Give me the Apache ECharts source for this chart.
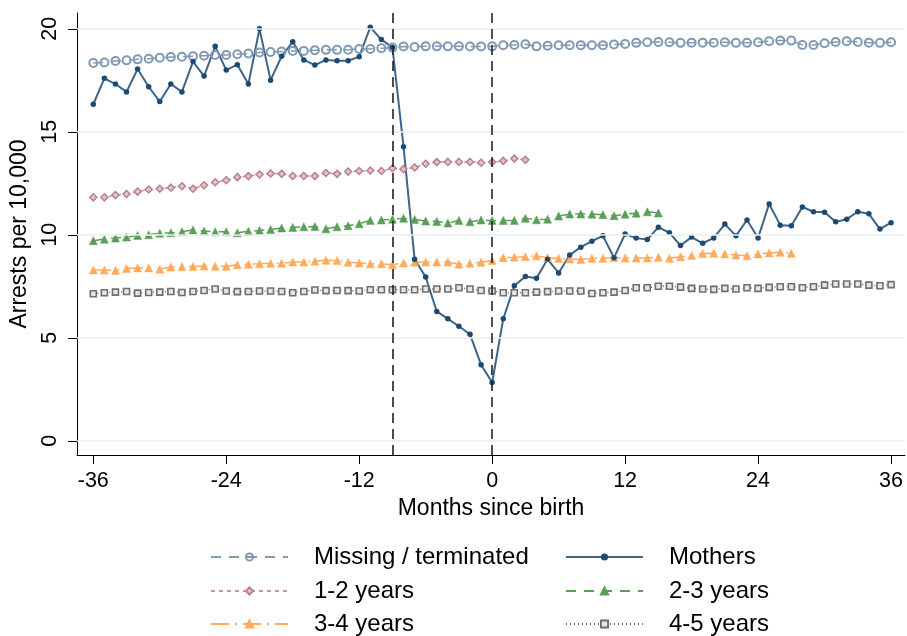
<!DOCTYPE html>
<html>
<head>
<meta charset="utf-8">
<script src="https://cdn.jsdelivr.net/npm/echarts@6/dist/echarts.min.js"></script>
<style>
  html, body { margin: 0; padding: 0; background: #fff; }
  #chart { width: 907px; height: 636px; }
</style>
</head>
<body>
<div id="chart"></div>
<script>
// Months relative to birth
const months = [-36,-35,-34,-33,-32,-31,-30,-29,-28,-27,-26,-25,-24,-23,-22,-21,-20,-19,-18,-17,-16,-15,-14,-13,-12,-11,-10,-9,
  -8,-7,-6,-5,-4,-3,-2,-1,0,1,2,3,4,5,6,7,8,9,10,11,12,13,14,15,16,17,18,19,20,21,22,23,24,25,26,27,28,29,30,31,32,33,34,35,36];

// Arrests per 10,000 by group
const missingTerminated = [18.34,18.37,18.44,18.47,18.52,18.55,18.6,18.63,18.65,18.67,18.7,18.73,18.73,18.77,18.8,18.85,18.88,18.9,18.93,18.93,18.96,18.98,18.98,18.99,19.02,19.02,19.06,19.09,
  19.14,19.12,19.15,19.15,19.15,19.15,19.14,19.14,19.15,19.2,19.22,19.25,19.15,19.18,19.2,19.2,19.21,19.2,19.21,19.24,
  19.27,19.32,19.35,19.36,19.35,19.32,19.33,19.33,19.33,19.35,19.32,19.32,19.35,19.4,19.43,19.43,19.22,19.22,19.3,19.36,19.4,19.36,19.33,19.32,19.35];

const mothers = [16.34,17.6,17.32,16.94,18.05,17.19,16.47,17.32,16.94,18.41,17.71,19.15,18.0,18.26,17.32,20.0,17.51,18.67,19.37,18.49,18.24,18.49,18.45,18.45,18.65,20.08,19.48,19.1,
  14.28,8.81,7.95,6.28,5.92,5.56,5.17,3.69,2.83,
  5.92,7.53,7.98,7.89,8.81,8.15,9.02,9.4,9.69,9.95,8.89,10.04,
  9.84,9.77,10.37,10.1,9.48,9.89,9.59,9.85,10.52,9.95,10.72,9.85,11.5,10.47,10.44,11.35,11.12,11.1,10.63,10.76,11.12,11.02,10.28,10.59];

const years1to2 = [11.82,11.82,11.93,11.98,12.1,12.2,12.24,12.29,12.36,12.24,12.41,12.55,12.65,12.8,12.85,12.93,12.98,12.96,12.86,12.86,12.85,13.0,12.96,13.07,13.1,13.12,13.1,13.23,
  13.19,13.27,13.45,13.53,13.54,13.54,13.54,13.5,13.53,13.59,13.7,13.64];

const years2to3 = [9.71,9.79,9.84,9.89,9.97,10.0,10.08,10.1,10.15,10.24,10.18,10.15,10.15,10.1,10.17,10.21,10.26,10.33,10.36,10.39,10.4,10.29,10.39,10.44,10.54,10.7,10.72,10.76,
  10.8,10.75,10.67,10.65,10.57,10.7,10.63,10.72,10.7,10.7,10.7,10.8,10.73,10.76,10.91,11.01,11.01,11.0,10.98,10.93,11.0,11.05,11.12,11.06];

const years3to4 = [8.29,8.29,8.27,8.36,8.39,8.39,8.33,8.44,8.46,8.46,8.49,8.47,8.47,8.55,8.57,8.59,8.62,8.62,8.68,8.68,8.72,8.76,8.75,8.67,8.63,8.59,8.6,8.55,
  8.63,8.67,8.68,8.68,8.68,8.57,8.62,8.67,8.75,8.89,8.91,8.94,8.98,8.89,8.85,8.83,8.8,8.86,8.86,8.89,8.87,8.87,
  8.88,8.91,8.86,8.93,9.0,9.09,9.1,9.07,9.02,8.99,9.07,9.12,9.15,9.1];

const years4to5 = [7.14,7.19,7.22,7.25,7.17,7.2,7.22,7.25,7.2,7.25,7.3,7.37,7.27,7.24,7.25,7.27,7.27,7.25,7.19,7.25,7.32,7.29,7.3,7.29,7.27,7.33,7.33,7.33,
  7.33,7.33,7.37,7.37,7.37,7.43,7.37,7.3,7.27,7.19,7.19,7.19,7.22,7.24,7.27,7.27,7.27,7.15,7.19,7.22,7.3,7.43,
  7.43,7.5,7.5,7.46,7.4,7.37,7.35,7.4,7.37,7.43,7.4,7.45,7.48,7.48,7.43,7.48,7.56,7.61,7.61,7.61,7.56,7.53,7.58];

// Axis ticks and reference lines
const xTicks = [-36, -24, -12, 0, 12, 24, 36];
const yTicks = [0, 5, 10, 15, 20];
const eventMonths = [-9, 0];

// Legend entries, two columns by three rows
const legendColumns = [
  ['Missing / terminated', '1-2 years', '3-4 years'],
  ['Mothers', '2-3 years', '4-5 years']
];

const FONT = 'Liberation Sans, Arial, Helvetica, sans-serif';

function pairs(vals) {
  return vals.map((v, i) => [months[i], v]);
}

function lineSeries(name, vals, opts) {
  return Object.assign({
    name: name,
    type: 'line',
    data: pairs(vals),
    showAllSymbol: true,
    clip: false,
    animation: false,
    emphasis: { disabled: true }
  }, opts);
}

// one legend component per entry keeps the columns aligned
const legendLefts = [210, 565];
const legendRowCenters = [557, 591, 624];
const legends = [];
legendColumns.forEach((col, c) => {
  col.forEach((name, r) => {
    legends.push({
      orient: 'horizontal',
      left: legendLefts[c],
      top: legendRowCenters[r] - 13,
      padding: 0,
      itemWidth: 77,
      itemHeight: 9,
      selectedMode: false,
      textStyle: { fontFamily: FONT, fontSize: 24, color: '#000', lineHeight: 26, padding: [0, 0, 0, 21] },
      data: [name]
    });
  });
});

const chart = echarts.init(document.getElementById('chart'), null, { renderer: 'canvas' });

const option = {
  backgroundColor: '#ffffff',
  animation: false,
  grid: { left: 77, right: 2, top: 13, bottom: 181, containLabel: false, outerBoundsMode: 'none' },
  xAxis: {
    type: 'value',
    min: -37.47,
    max: 37.26,
    name: 'Months since birth',
    nameLocation: 'middle',
    nameGap: 38,
    nameTextStyle: { fontFamily: FONT, fontSize: 23, color: '#000' },
    axisLine: { show: true, onZero: false, lineStyle: { color: '#000', width: 1 } },
    axisTick: { show: true, length: 9, customValues: xTicks, lineStyle: { color: '#000' } },
    axisLabel: { customValues: xTicks, margin: 15, fontFamily: FONT, fontSize: 21.5, color: '#000' },
    splitLine: { show: false }
  },
  yAxis: {
    type: 'value',
    min: -0.69,
    max: 20.77,
    name: 'Arrests per 10,000',
    nameLocation: 'middle',
    nameRotate: 90,
    nameGap: 30,
    nameTextStyle: { fontFamily: FONT, fontSize: 23, color: '#000' },
    axisLine: { show: true, onZero: false, lineStyle: { color: '#000', width: 1 } },
    axisTick: { show: true, length: 9, customValues: yTicks, lineStyle: { color: '#000' } },
    axisLabel: { customValues: yTicks, rotate: 90, margin: 16, fontFamily: FONT, fontSize: 21.5, color: '#000' },
    splitLine: { show: false }
  },
  legend: legends,
  series: [
    // horizontal grid lines
    {
      type: 'line', data: [], silent: true, animation: false,
      markLine: {
        silent: true, symbol: 'none', animation: false,
        label: { show: false },
        lineStyle: { color: '#e7eff2', width: 1.6, type: 'solid' },
        data: yTicks.map(v => ({ yAxis: v }))
      }
    },
    lineSeries('Missing / terminated', missingTerminated, {
      symbol: 'circle', symbolSize: 8,
      itemStyle: { color: 'rgba(255,255,255,0)', borderColor: '#8199b3', borderWidth: 2 },
      lineStyle: { color: '#8199b3', width: 1.5, type: [10, 8] },
      color: '#8199b3'
    }),
    lineSeries('1-2 years', years1to2, {
      symbol: 'diamond', symbolSize: 7,
      itemStyle: { color: '#e6c4c9', borderColor: '#b7828a', borderWidth: 1.5 },
      lineStyle: { color: '#c79aa1', width: 1.5, type: [4, 4] },
      color: '#b7828a'
    }),
    lineSeries('2-3 years', years2to3, {
      symbol: 'triangle', symbolSize: 8,
      itemStyle: { color: '#5a9e58', borderColor: '#5a9e58', borderWidth: 0.5 },
      lineStyle: { color: '#5a9e58', width: 1.5, type: [10, 8] },
      color: '#5a9e58'
    }),
    lineSeries('3-4 years', years3to4, {
      symbol: 'triangle', symbolSize: 8,
      itemStyle: { color: '#ffab5e', borderColor: '#ffab5e', borderWidth: 0.5 },
      lineStyle: { color: '#ffab5e', width: 1.5, type: [18, 6, 2, 6] },
      color: '#ffab5e'
    }),
    lineSeries('4-5 years', years4to5, {
      symbol: 'rect', symbolSize: 6,
      itemStyle: { color: '#e6e6e6', borderColor: '#6f6f6f', borderWidth: 1.6 },
      lineStyle: { color: '#6f6f6f', width: 1.5, type: [1, 3] },
      color: '#6f6f6f'
    }),
    lineSeries('Mothers', mothers, {
      symbol: 'circle', symbolSize: 5.5,
      itemStyle: { color: '#1b4a72', borderWidth: 0 },
      lineStyle: { color: '#3d6489', width: 2 },
      color: '#1b4a72',
      markLine: {
        silent: true, symbol: 'none', animation: false,
        label: { show: false },
        lineStyle: { color: '#222', width: 1.6, type: [10, 6] },
        data: eventMonths.map(v => ({ xAxis: v }))
      }
    })
  ]
};

chart.setOption(option);
</script>
</body>
</html>
